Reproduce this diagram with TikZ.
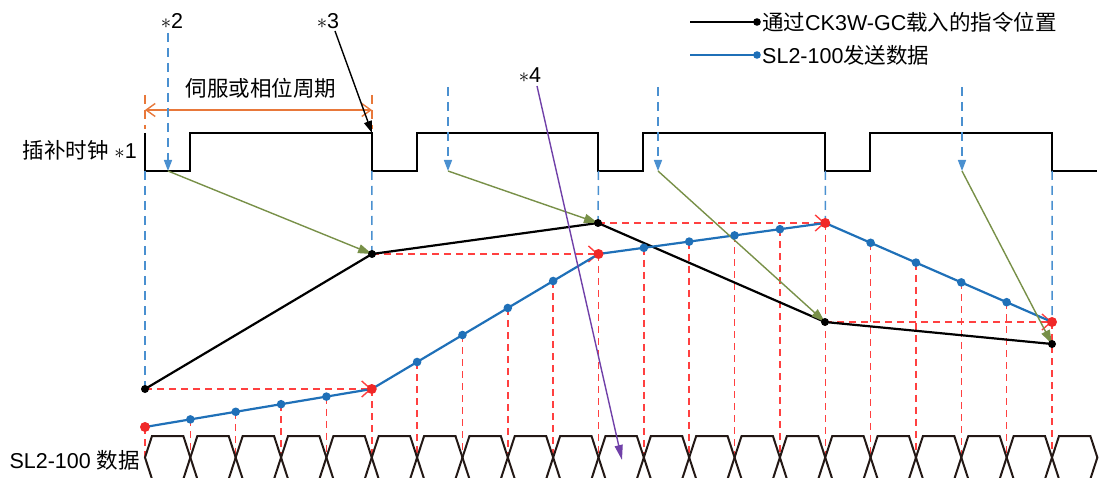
\documentclass[tikz,border=0pt]{standalone}
\usepackage{fontspec}
\setmainfont{Liberation Sans}
\newfontfamily\cjk{Noto Sans CJK SC}
\usetikzlibrary{arrows.meta}
\definecolor{clkblue}{HTML}{4A90D0}
\definecolor{lineblue}{HTML}{1F70B8}
\definecolor{dotred}{HTML}{F02828}
\definecolor{dashred}{HTML}{FF4040}
\definecolor{orng}{HTML}{E8783A}
\definecolor{olive}{HTML}{789048}
\definecolor{purp}{HTML}{7040A8}
\definecolor{hexc}{HTML}{231815}
\begin{document}
\begin{tikzpicture}[x=1pt,y=-1pt,
  txt/.style={font=\fontsize{21.5}{25}\selectfont, inner sep=0pt},
  clkline/.style={line width=2.2pt, black, line join=miter},
  bdash/.style={clkblue, line width=1.5pt, dash pattern=on 9pt off 6pt},
  barrow/.style={bdash, -{Triangle[length=11pt,width=8pt]}},
  rdash/.style={dashred, line width=1.5pt, dash pattern=on 7pt off 5pt},
  rarrow/.style={rdash, -{Straight Barb[length=9pt,width=16pt,line width=1.4pt]}},
  cmdline/.style={line width=2.2pt, black},
  sendline/.style={line width=2.2pt, lineblue},
  garrow/.style={olive, line width=1.4pt, -{Triangle[length=14pt,width=9pt]}},
  parrow/.style={purp, line width=1.4pt, -{Triangle[length=15pt,width=8pt]}},
  karrow/.style={black, line width=1.4pt, -{Triangle[length=12pt,width=8pt]}},
  odim/.style={orng, line width=1.5pt, {Straight Barb[length=9pt,width=13pt,line width=1.4pt]}-{Straight Barb[length=9pt,width=13pt,line width=1.4pt]}},
  odash/.style={orng, line width=1.5pt, dash pattern=on 9pt off 6pt},
  hexline/.style={hexc, line width=2pt, line join=miter},
  kdot/.style={black},
  bdot/.style={lineblue},
  rdot/.style={dotred}
]
\useasboundingbox (0,0) rectangle (1100,478);
\clip (0,0) rectangle (1100,478);

% ---------- coordinates ----------
\coordinate (k0) at (145,389);
\coordinate (k1) at (372,254);
\coordinate (k2) at (598,223);
\coordinate (k3) at (825,322);
\coordinate (k4) at (1052,344);
\foreach \i/\y in {0/427,1/419.4,2/411.8,3/404.2,4/396.6,5/389,6/362,7/335,8/308,9/281,10/254,11/247.8,12/241.6,13/235.4,14/229.2,15/223,16/242.8,17/262.6,18/282.4,19/302.2,20/322}{
  \coordinate (b\i) at ({145+45.35*\i},\y);
  \coordinate (d\i) at ({145+45.35*\i},457.5);
}
\foreach \i in {0,...,4}{
  \coordinate (c\i) at ({145+226.75*\i},171);
}
\coordinate (s1) at (168,33);  \coordinate (a1) at (168,171);
\coordinate (s2) at (448,87);  \coordinate (a2) at (448,171);
\coordinate (s3) at (658,87);  \coordinate (a3) at (658,171);
\coordinate (s4) at (962,87);  \coordinate (a4) at (962,171);

% ---------- labels ----------
\node[txt] (l2) at (172,21) {$\ast$2};
\node[txt] (l3) at (328,21) {$\ast$3};
\node[txt] (l4) at (530,75) {$\ast$4};
\node[txt] (period) at (261,88) {\cjk 伺服或相位周期};
\node[txt, anchor=east] (clklbl) at (137,150) {{\cjk 插补时钟} $\ast$1};
\node[txt, anchor=east] (datalbl) at (140,460) {SL2-100 {\cjk 数据}};

% ---------- legend ----------
\coordinate (lg1a) at (690,22); \coordinate (lg1b) at (757,22);
\coordinate (lg2a) at (690,55); \coordinate (lg2b) at (757,55);
\draw[cmdline, line width=1.8pt] (lg1a) -- (lg1b);
\fill[kdot] (lg1b) circle (3.8);
\draw[sendline, line width=1.8pt] (lg2a) -- (lg2b);
\fill[bdot] (lg2b) circle (3.8);
\node[txt, anchor=west] (lgt1) at (762,22) {{\cjk 通过}CK3W-GC{\cjk 载入的指令位置}};
\node[txt, anchor=west] (lgt2) at (762,55) {SL2-100{\cjk 发送数据}};

% ---------- period dimension ----------
\coordinate (o1a) at (145,95); \coordinate (o1b) at (145,129);
\coordinate (o2a) at (372,95); \coordinate (o2b) at (372,129);
\draw[odash] (o1a) -- (o1b);
\draw[odash] (o2a) -- (o2b);
\coordinate (dimL) at (145,110); \coordinate (dimR) at (372,110);
\draw[odim] (dimL) -- (dimR);

% ---------- clock ----------
\draw[clkline] (145,133) -- (145,171) -- (190,171) -- (190,133) -- (372,133) -- (372,171)
  -- (417,171) -- (417,133) -- (598,133) -- (598,171) -- (643,171) -- (643,133)
  -- (825,133) -- (825,171) -- (870,171) -- (870,133) -- (1052,133) -- (1052,171) -- (1097,171);

% ---------- blue dashed verticals ----------
\draw[bdash] (c0) -- (k0);
\draw[bdash] (c1) -- (k1);
\draw[bdash] (c2) -- (k2);
\draw[bdash] (c3) -- (b15);
\draw[bdash] (c4) -- (b20);
\draw[barrow] (s1) -- (a1);
\draw[barrow] (s2) -- (a2);
\draw[barrow] (s3) -- (a3);
\draw[barrow] (s4) -- (a4);

% ---------- red dashed verticals ----------
\foreach \i in {0,...,20}{
  \draw[rdash] (b\i) -- (d\i);
}
% ---------- red dashed horizontal arrows ----------
\draw[rarrow] (k0) -- (b5);
\draw[rarrow] (k1) -- (b10);
\draw[rarrow] (k2) -- (b15);
\draw[rarrow] (k3) -- (b20);

% ---------- data eye pattern ----------
\foreach \k in {0,...,20}{
  \pgfmathsetmacro\xa{145+45.35*\k}
  \pgfmathsetmacro\xb{145+45.35*(\k+1)}
  \draw[hexline] (\xa,457.5) -- (\xa+7,436) -- (\xb-7,436) -- (\xb,457.5) -- (\xb-7,479) -- (\xa+7,479) -- cycle;
}

% ---------- command line ----------
\draw[cmdline] (k0) -- (k1) -- (k2) -- (k3) -- (k4);
% ---------- send data line ----------
\draw[sendline] (b0) \foreach \i in {1,...,20}{ -- (b\i) };

% ---------- green arrows ----------
\draw[garrow] (a1) -- (k1);
\draw[garrow] (a2) -- (k2);
\draw[garrow] (a3) -- (k3);
\draw[garrow] (a4) -- (k4);

% ---------- dots ----------
\foreach \i in {1,2,3,4,6,7,8,9,11,12,13,14,16,17,18,19}{
  \fill[bdot] (b\i) circle (4.3);
}
\foreach \i in {0,5,10,15,20}{
  \fill[rdot] (b\i) circle (5);
}
\foreach \i in {0,...,4}{
  \fill[kdot] (k\i) circle (4);
}

% ---------- annotation arrows ----------
\coordinate (p0) at (537,86); \coordinate (p1) at (622,460);
\draw[parrow] (p0) -- (p1);
\coordinate (q0) at (335,31); \coordinate (q1) at (372,133);
\draw[karrow] (q0) -- (q1);
\end{tikzpicture}
\end{document}
